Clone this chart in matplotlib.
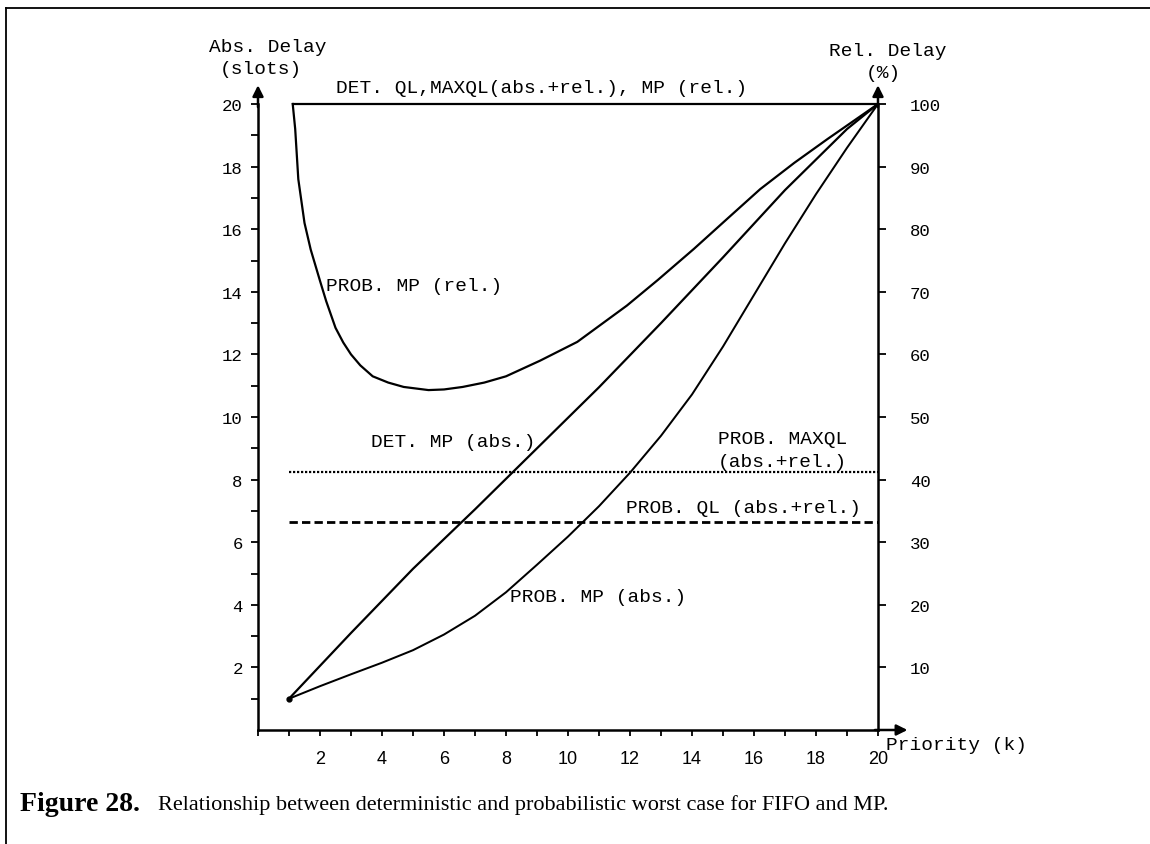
import matplotlib
matplotlib.use("Agg")
from matplotlib import pyplot as plt
from matplotlib.lines import Line2D

MONO = "Liberation Mono"

# PROB. MP (rel.) - drawn against the abs. scale (20 slots = 100 %)
k_prob_rel = [1.12, 1.2, 1.3, 1.5, 1.7, 2.0, 2.2, 2.5, 2.75, 3.0, 3.3, 3.7, 4.2, 4.7, 5.5, 6.0, 6.6, 7.3, 8.0,
              9.1, 10.3, 11.9, 12.9, 14.06, 15.1, 16.2, 17.3, 18.37, 19.2, 20]
d_prob_rel = [20.0, 19.2, 17.6, 16.2, 15.35, 14.35, 13.7, 12.85, 12.38, 12.0, 11.65, 11.3, 11.1, 10.96, 10.86,
              10.88, 10.96, 11.1, 11.3, 11.8, 12.4, 13.56, 14.38, 15.37, 16.3, 17.28, 18.12, 18.88, 19.45, 20.0]

# DET. MP (abs.)
k_det_mp = [1, 3, 5, 7, 9, 11, 13, 15, 17, 19, 20]
d_det_mp = [1.0, 3.1, 5.15, 7.05, 9.0, 10.95, 13.0, 15.1, 17.25, 19.2, 20.0]

# PROB. MP (abs.)
k_prob_mp = [1, 2, 3, 4, 5, 6, 7, 8, 9, 10, 11, 12, 13, 14, 15, 16, 17, 18, 19, 20]
d_prob_mp = [1.0, 1.4, 1.78, 2.15, 2.55, 3.05, 3.65, 4.4, 5.28, 6.18, 7.15, 8.22, 9.4, 10.72, 12.25, 13.9, 15.55, 17.12, 18.6, 20.0]

# horizontal levels
k_range = [1, 20]
det_ql_level = 20.0
prob_maxql_level = 8.25
prob_ql_level = 6.66

x_major = list(range(0, 21, 2))
x_labels = [""] + [str(v) for v in range(2, 21, 2)]
y_major = list(range(2, 21, 2))
rel_ticks = list(range(10, 101, 10))

fig = plt.figure(figsize=(11.5, 8.45), dpi=100)
W, H = 1150, 845
ax = fig.add_axes([258 / W, (H - 731) / H, 620 / W, 626 / H])
ax.set_xlim(0, 20)
ax.set_ylim(0, 20)
ax.patch.set_visible(False)

lw_axis = 1.8
for s in ["top", "right"]:
    ax.spines[s].set_visible(False)
for s in ["left", "bottom"]:
    ax.spines[s].set_linewidth(lw_axis)

ax.set_xticks(x_major, x_labels)
ax.set_xticks(range(1, 20, 2), minor=True)
ax.set_yticks(y_major)
ax.set_yticks(range(1, 20, 2), minor=True)
ax.tick_params(axis="x", which="both", direction="out", length=4.5, width=1.3, pad=10)
ax.tick_params(axis="y", which="both", direction="out", length=5, width=1.3, pad=6)
for lab in ax.get_xticklabels():
    lab.set_fontfamily("Liberation Sans")
    lab.set_fontsize(13)
for lab in ax.get_yticklabels():
    lab.set_fontfamily(MONO)
    lab.set_fontsize(12.5)

ax2 = ax.twinx()
ax2.set_ylim(0, 100)
for s in ["top", "left", "bottom"]:
    ax2.spines[s].set_visible(False)
ax2.spines["right"].set_linewidth(lw_axis)
ax2.set_yticks(rel_ticks)
ax2.set_yticks([50], minor=True)
ax2.tick_params(axis="y", which="major", direction="out", length=6, width=1.3, pad=17)
ax2.tick_params(axis="y", which="minor", direction="out", length=13, width=1.3)
for lab in ax2.get_yticklabels():
    lab.set_fontfamily(MONO)
    lab.set_fontsize(12.5)

# axis arrows
arrow = dict(arrowstyle="-|>", color="black", lw=lw_axis, mutation_scale=16, shrinkA=0, shrinkB=0)
ax.annotate("", xy=(0, 20.6), xytext=(0, 19.9), arrowprops=arrow, annotation_clip=False)
ax.annotate("", xy=(20, 20.6), xytext=(20, 19.9), arrowprops=arrow, annotation_clip=False)
ax.annotate("", xy=(20.95, 0), xytext=(19.9, 0), arrowprops=arrow, annotation_clip=False)

# curves
lw = 1.6
ax.plot(k_prob_rel, d_prob_rel, color="black", lw=lw, clip_on=False)
ax.plot([k_prob_rel[0], k_range[1]], [det_ql_level, det_ql_level], color="black", lw=lw, clip_on=False)
ax.plot(k_det_mp, d_det_mp, color="black", lw=lw, clip_on=False)
ax.plot(k_prob_mp, d_prob_mp, color="black", lw=lw * 0.9, clip_on=False)
ax.plot(k_range, [prob_maxql_level] * 2, color="black", lw=1.6, linestyle=(0, (1, 0.8)))
ax.plot(k_range, [prob_ql_level] * 2, color="black", lw=2.0, linestyle=(0, (3, 1.5)))
ax.plot([1], [1], marker="o", color="black", ms=3.5)

# labels
fs = 14
def txt(x, y, s, ha="left"):
    ax.text(x, y, s, fontfamily=MONO, fontsize=fs, ha=ha, va="center", clip_on=False)

txt(2.52, 20.54, "DET. QL,MAXQL(abs.+rel.), MP (rel.)")
txt(2.2, 14.19, "PROB. MP (rel.)")
txt(3.65, 9.23, "DET. MP (abs.)")
txt(14.83, 9.30, "PROB. MAXQL")
txt(14.83, 8.59, "(abs.+rel.)")
txt(11.86, 7.12, "PROB. QL (abs.+rel.)")
txt(8.14, 4.25, "PROB. MP (abs.)")
txt(20.26, -0.45, "Priority (k)")
txt(0.32, 21.85, "Abs. Delay", ha="center")
txt(0.1, 21.15, "(slots)", ha="center")
txt(20.3, 21.7, "Rel. Delay", ha="center")
txt(20.16, 21.0, "(%)", ha="center")

# caption
fig.text(20 / W, 1 - 805 / H, "Figure 28.", fontfamily="Liberation Serif",
         fontweight="bold", fontsize=20, ha="left", va="center")
fig.text(158 / W, 1 - 805 / H, "Relationship between deterministic and probabilistic worst case for FIFO and MP.",
         fontfamily="Liberation Serif", fontsize=16, ha="left", va="center")

# page frame (top and left edge)
fig.add_artist(Line2D([6 / W, 1], [1 - 9 / H, 1 - 9 / H], color="black", lw=1.3))
fig.add_artist(Line2D([6 / W, 6 / W], [0, 1 - 9 / H], color="black", lw=1.3))

fig.savefig("out.png", dpi=100)
